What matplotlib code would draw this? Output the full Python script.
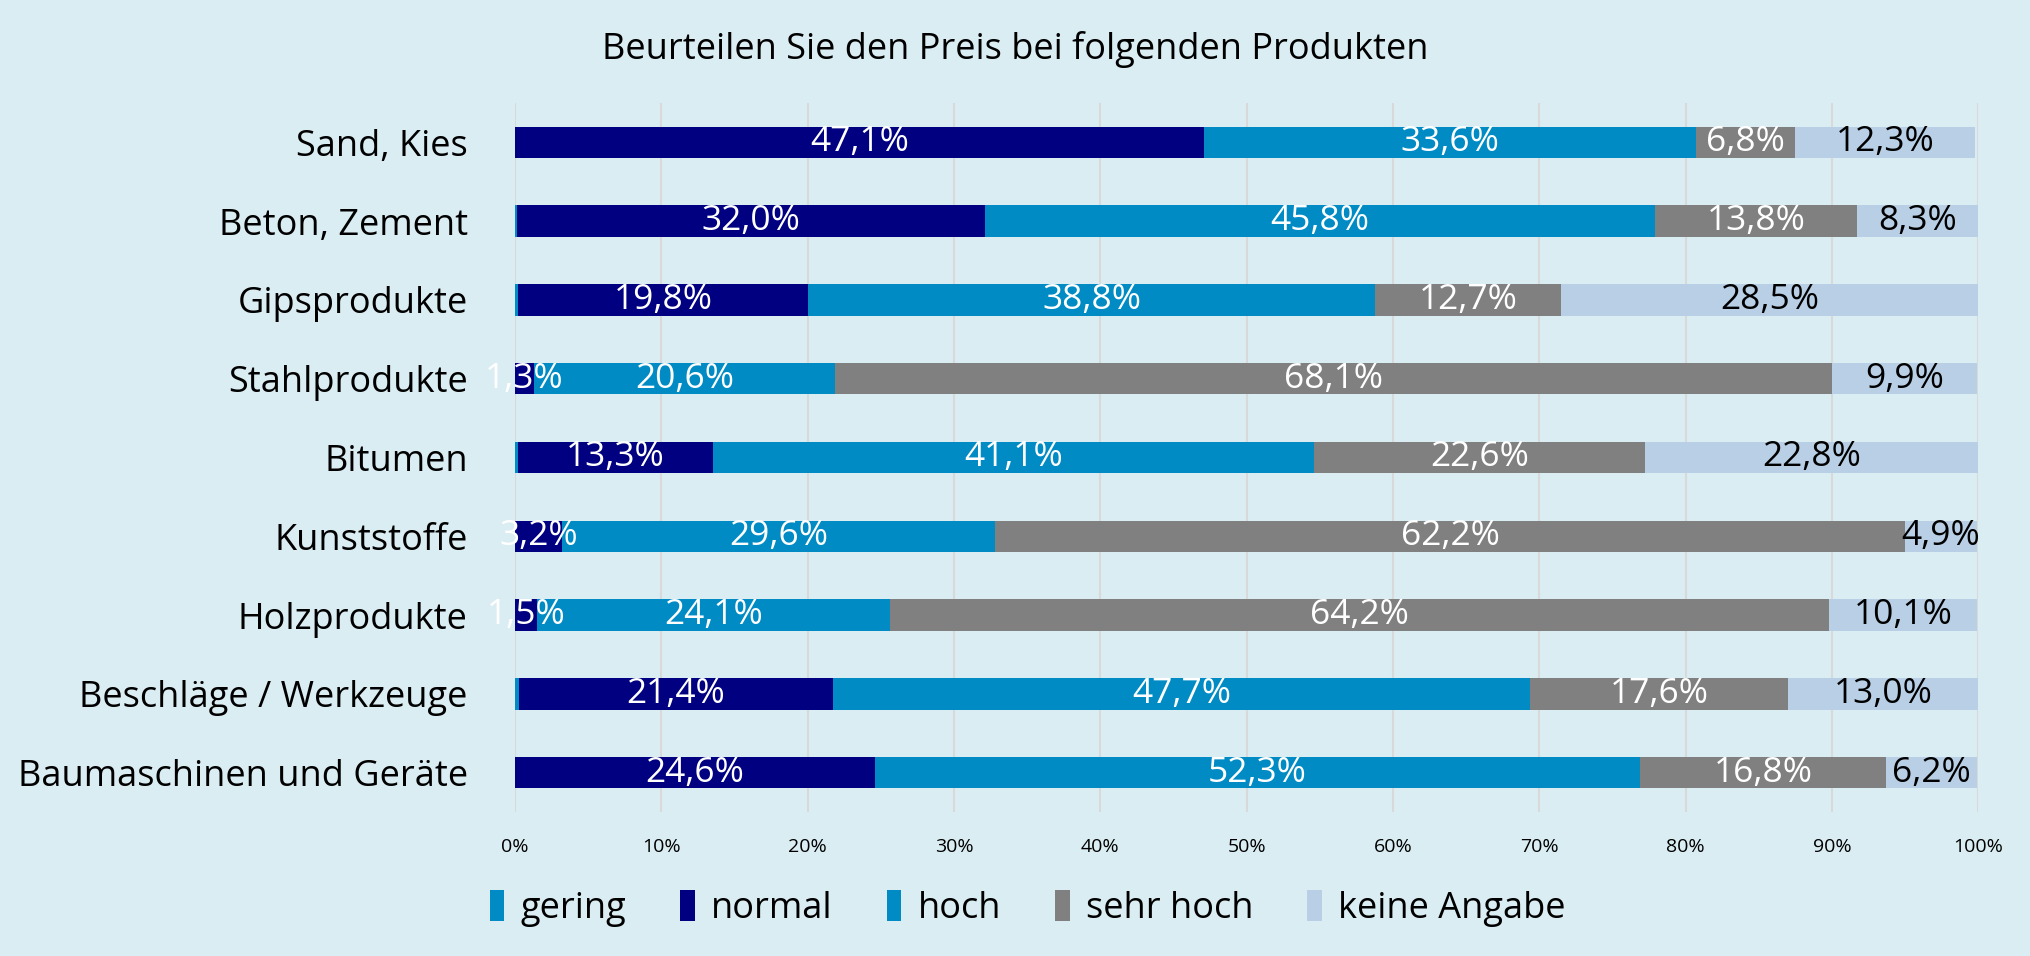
import matplotlib
matplotlib.use("Agg")
import matplotlib.pyplot as plt
from matplotlib.patches import Patch

plt.rcParams['font.family'] = ['Open Sans', 'DejaVu Sans']

# Daten
kategorien = ["Sand, Kies", "Beton, Zement", "Gipsprodukte", "Stahlprodukte", "Bitumen",
              "Kunststoffe", "Holzprodukte", "Beschläge / Werkzeuge", "Baumaschinen und Geräte"]
gering = [0.0, 0.1, 0.2, 0.0, 0.2, 0.0, 0.0, 0.3, 0.0]
normal = [47.1, 32.0, 19.8, 1.3, 13.3, 3.2, 1.5, 21.4, 24.6]
hoch = [33.6, 45.8, 38.8, 20.6, 41.1, 29.6, 24.1, 47.7, 52.3]
sehr_hoch = [6.8, 13.8, 12.7, 68.1, 22.6, 62.2, 64.2, 17.6, 16.8]
keine_angabe = [12.3, 8.3, 28.5, 9.9, 22.8, 4.9, 10.1, 13.0, 6.2]

serien = ["gering", "normal", "hoch", "sehr hoch", "keine Angabe"]
werte = [gering, normal, hoch, sehr_hoch, keine_angabe]
farben = ["#008BC4", "#000080", "#008BC4", "#808080", "#B8CFE5"]
textfarben = [None, "white", "white", "white", "black"]

bg = "#DAEDF3"
fig = plt.figure(figsize=(20.31, 9.56), dpi=100, facecolor=bg)
ax = fig.add_axes([0.2536, 0.1506, 0.7204, 0.7417])
ax.set_facecolor(bg)

y = list(range(len(kategorien)))
links = [0.0] * len(kategorien)
for name, vals, fc, tc in zip(serien, werte, farben, textfarben):
    ax.barh(y, vals, left=links, height=0.4, color=fc, zorder=2)
    for i, v in enumerate(vals):
        if tc is not None and v > 0:
            ax.text(links[i] + v / 2, y[i], f"{v:.1f}%".replace(".", ","),
                    ha='center', va='center', color=tc, fontsize=25.5, zorder=3)
    links = [a + b for a, b in zip(links, vals)]

ax.set_xlim(0, 100)
ax.set_ylim(8.5, -0.5)
ax.set_xticks(range(0, 101, 10))
ax.set_xticklabels([f"{t}%" for t in range(0, 101, 10)], fontsize=14)
ax.set_yticks(y)
ax.set_yticklabels(kategorien, fontsize=26)
ax.tick_params(axis='both', length=0)
ax.tick_params(axis='x', pad=19)
ax.tick_params(axis='y', pad=34)
ax.grid(axis='x', color='#D9D9D9', linewidth=1.5, zorder=0)
for s in ax.spines.values():
    s.set_visible(False)

fig.text(0.5, 0.948, "Beurteilen Sie den Preis bei folgenden Produkten",
         ha='center', va='center', fontsize=26)

handles = [Patch(facecolor=c, edgecolor='none') for c in farben]
fig.legend(handles, serien, loc='center', bbox_to_anchor=(0.506, 0.050), ncol=5,
           frameon=False, fontsize=26, handlelength=0.4, handleheight=0.95,
           handletextpad=0.45, columnspacing=1.5)

fig.savefig("out.png", dpi=100, facecolor=bg)
